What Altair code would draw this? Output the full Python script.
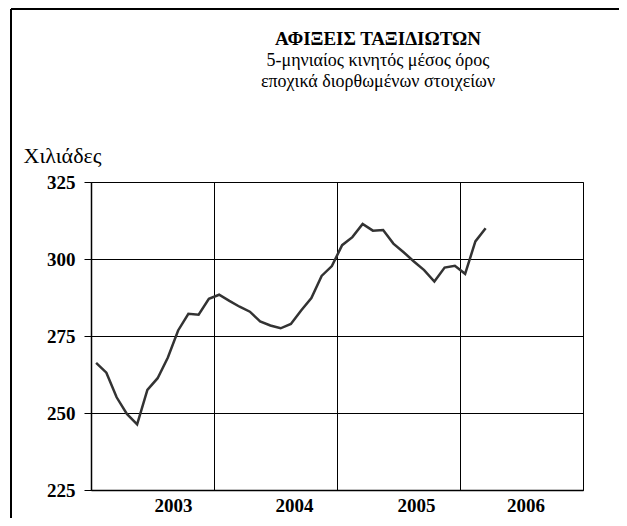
import altair as alt
import pandas as pd

# 5-month moving average, thousands of arrivals
values = [266.3, 263.1, 255.1, 249.7, 246.3, 257.5, 261.3, 268.0, 276.8, 282.2,
          281.9, 287.1, 288.4, 286.4, 284.5, 282.9, 279.7, 278.4, 277.5, 278.9,
          283.3, 287.3, 294.5, 297.7, 304.5, 307.1, 311.4, 309.2, 309.4, 305.0,
          302.2, 299.2, 296.4, 292.7, 297.2, 297.8, 295.2, 305.7, 310.0]
years = ["2003", "2004", "2005", "2006"]
year_label_pos = [8.5, 20.3, 32.2, 42.9]
year_bounds = [12.5, 24.5, 36.5]
y_ticks = [225, 250, 275, 300, 325]

df = pd.DataFrame({"month": list(range(1, len(values) + 1)), "value": values})

FONT = "Liberation Serif"

label_expr = ""
for b, yr in zip(year_bounds, years[:-1]):
    label_expr += f"datum.value < {b} ? '{yr}' : "
label_expr += f"'{years[-1]}'"

xscale = alt.Scale(domain=[0.5, 48.5], nice=False, zero=False)
yscale = alt.Scale(domain=[225, 325], nice=False, zero=False)

y_axis = alt.Axis(values=y_ticks, grid=True, gridColor="black", gridWidth=1,
                  gridOpacity=1, domainColor="black", domainWidth=1.5,
                  tickColor="black", tickSize=7, tickWidth=1,
                  labelFont=FONT, labelFontSize=19, labelFontWeight="bold",
                  labelColor="black", labelPadding=9,
                  title="Χιλιάδες", titleFont=FONT, titleFontSize=22,
                  titleFontWeight="normal", titleColor="black",
                  titleAngle=0, titleAlign="left", titleBaseline="middle",
                  titleX=-68, titleY=-27)

line = alt.Chart(df).mark_line(color="#333333", strokeWidth=2.5).encode(
    x=alt.X("month:Q", scale=xscale,
            axis=alt.Axis(values=year_bounds, grid=True, labels=False, ticks=False,
                          domain=True, domainColor="black", domainWidth=1.5,
                          gridColor="black", gridWidth=1, gridOpacity=1,
                          title=None, orient="bottom")),
    y=alt.Y("value:Q", scale=yscale, axis=y_axis),
)

labels_layer = alt.Chart(df).mark_line(strokeOpacity=0).encode(
    x=alt.X("month:Q", scale=xscale,
            axis=alt.Axis(values=year_label_pos, labelExpr=label_expr, grid=False,
                          ticks=False, domain=False, title=None, orient="bottom",
                          labelFont=FONT, labelFontSize=19, labelFontWeight="bold",
                          labelColor="black", labelPadding=6)),
    y=alt.Y("value:Q", scale=yscale, axis=y_axis),
)

frame_v = alt.Chart(df).mark_rule(color="black", strokeWidth=2).encode(
    x=alt.value(-80), y=alt.value(-173), y2=alt.value(400))
frame_h = alt.Chart(df).mark_rule(color="black", strokeWidth=2).encode(
    x=alt.value(-80), x2=alt.value(600), y=alt.value(-173))

chart = alt.layer(frame_v, frame_h, line, labels_layer).resolve_axis(
    x="independent"
).properties(
    width=492,
    height=308,
    autosize=alt.AutoSizeParams(type="none"),
    padding={"left": 83, "top": 174, "right": 36, "bottom": 28},
    title=alt.TitleParams(
        text="ΑΦΙΞΕΙΣ ΤΑΞΙΔΙΩΤΩΝ",
        subtitle=["5-μηνιαίος κινητός μέσος όρος", "εποχικά διορθωμένων στοιχείων"],
        anchor="middle", frame="group", dx=41, offset=-83,
        font=FONT, fontSize=19, fontWeight="bold", color="black",
        subtitleFont=FONT, subtitleFontSize=18, subtitleColor="black",
        subtitleLineHeight=21, subtitlePadding=3,
    ),
).configure_view(stroke="black", strokeWidth=1)

chart.save("out.html", embed_options={"renderer": "svg", "actions": False})
